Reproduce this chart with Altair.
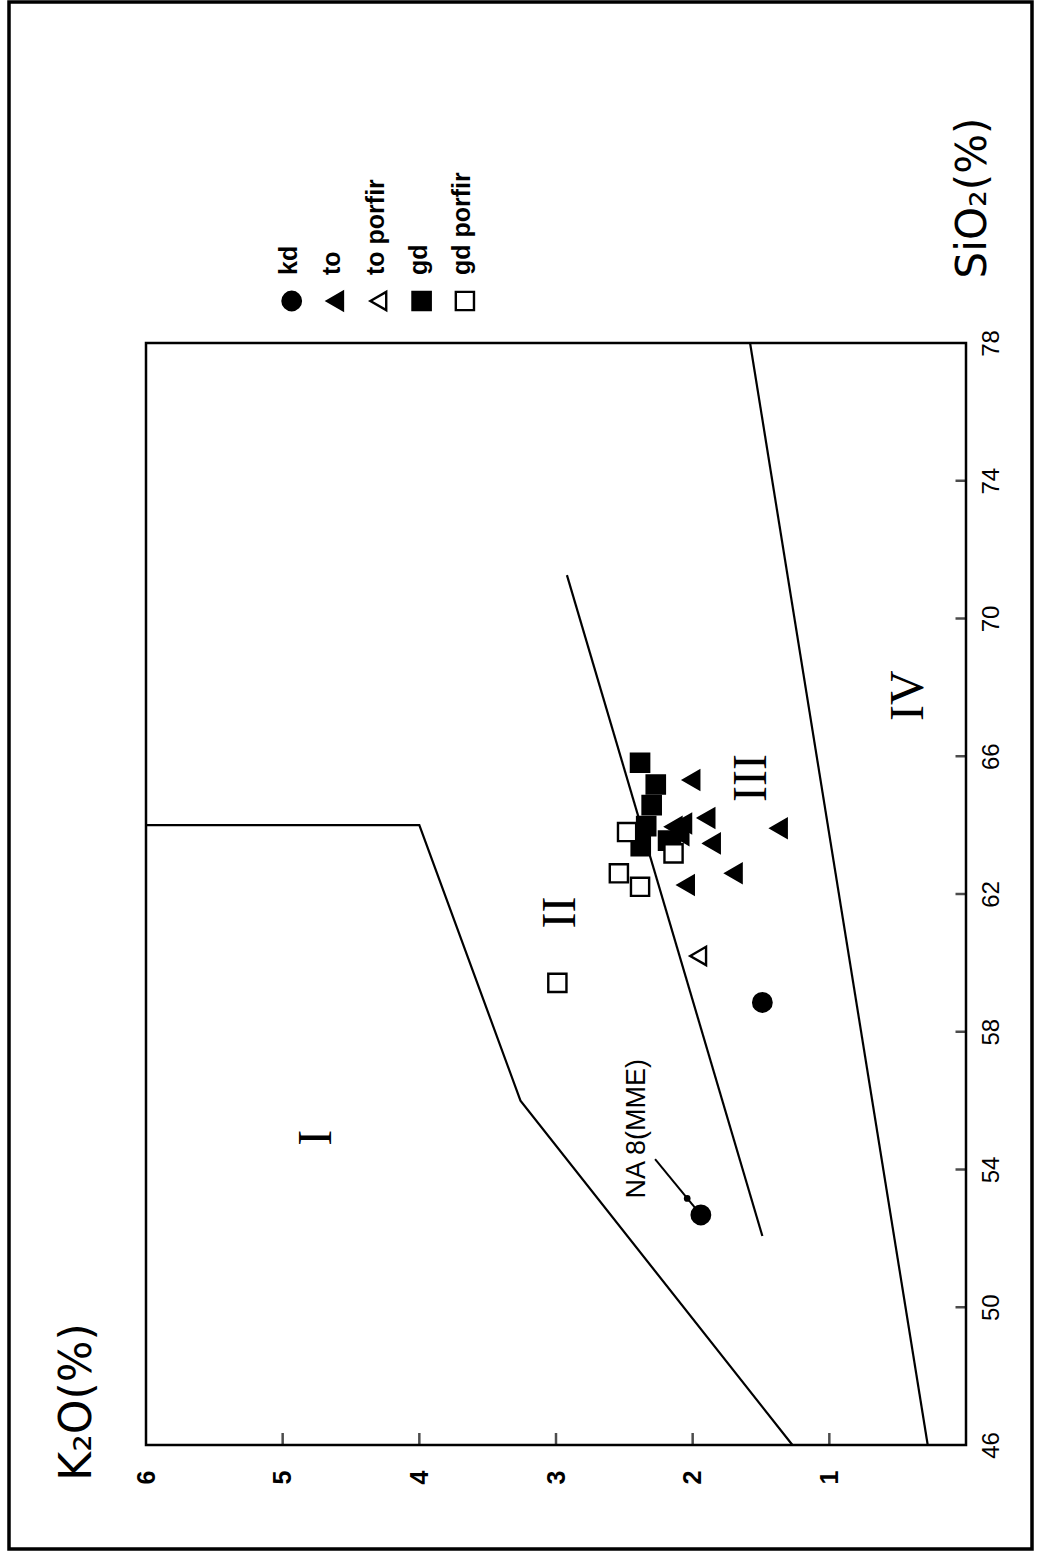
import altair as alt
import pandas as pd

# ---------------- data: SiO2 (%) and K2O (%) per rock group ----------------
kd_sio2 = [58.85, 52.68]
kd_k2o = [1.49, 1.94]

to_sio2 = [65.31, 64.21, 63.91, 63.47, 62.60, 62.26, 63.95, 64.05, 63.57, 63.71]
to_k2o = [2.01, 1.90, 1.37, 1.86, 1.70, 2.05, 2.14, 2.07, 2.15, 2.09]

to_porfir_sio2 = [60.20]
to_porfir_k2o = [1.96]

gd_sio2 = [65.81, 65.18, 64.58, 63.97, 63.39, 63.55]
gd_k2o = [2.385, 2.27, 2.30, 2.34, 2.38, 2.18]

gd_porfir_sio2 = [63.80, 63.18, 62.60, 62.21, 59.42]
gd_porfir_k2o = [2.48, 2.14, 2.54, 2.385, 2.99]

# field boundaries
line1_sio2 = [46, 56, 64, 64]
line1_k2o = [1.27, 3.26, 4.0, 6.0]
line2_sio2 = [52.07, 71.26]
line2_k2o = [1.49, 2.92]
line3_sio2 = [46, 78]
line3_k2o = [0.28, 1.58]

# field names
field_names = ["I", "II", "III", "IV"]
field_sio2 = [54.92, 61.46, 65.37, 67.76]
field_k2o = [4.75, 2.96, 1.565, 0.42]

# labelled sample
sample_label = "NA 8(MME)"
sample_label_sio2 = 55.18
sample_label_k2o = 2.41
leader_sio2 = [54.30, 52.68]
leader_k2o = [2.275, 1.94]
leader_dot_sio2 = [53.16]
leader_dot_k2o = [2.04]

rock_names = ["kd", "to", "to porfir", "gd", "gd porfir"]

k2o_ticks = [1, 2, 3, 4, 5, 6]
sio2_ticks = [46, 50, 54, 58, 62, 66, 70, 74, 78]

# ---------------- tables ----------------
groups = [
    ("kd", kd_sio2, kd_k2o),
    ("to", to_sio2, to_k2o),
    ("to porfir", to_porfir_sio2, to_porfir_k2o),
    ("gd", gd_sio2, gd_k2o),
    ("gd porfir", gd_porfir_sio2, gd_porfir_k2o),
]
points = pd.DataFrame(
    [{"rock": r, "sio2": s, "k2o": k} for r, ss, kk in groups for s, k in zip(ss, kk)]
)

bounds = pd.DataFrame(
    [
        {"line": name, "seq": i, "sio2": s, "k2o": k}
        for name, ss, kk in [("a", line1_sio2, line1_k2o),
                             ("b", line2_sio2, line2_k2o),
                             ("c", line3_sio2, line3_k2o)]
        for i, (s, k) in enumerate(zip(ss, kk))
    ]
)

fields = pd.DataFrame({"name": field_names, "sio2": field_sio2, "k2o": field_k2o})
leader = pd.DataFrame({"sio2": leader_sio2, "k2o": leader_k2o, "seq": [0, 1]})
leader_dot = pd.DataFrame({"sio2": leader_dot_sio2, "k2o": leader_dot_k2o})
label_df = pd.DataFrame({"t": [sample_label], "sio2": [sample_label_sio2], "k2o": [sample_label_k2o]})
k_tick_df = pd.DataFrame({"k2o": k2o_ticks[:-1]})
s_tick_df = pd.DataFrame({"sio2": sio2_ticks[1:-1]})
legend_df = pd.DataFrame({"rock": rock_names, "idx": list(range(len(rock_names)))})
one = pd.DataFrame({"a": [0]})

# ---------------- scales & axes (plot drawn turned a quarter turn) ----------------
W, H = 820, 1102
xs = alt.Scale(domain=[0, 6], reverse=True, nice=False, zero=False)
ys = alt.Scale(domain=[46, 78], nice=False, zero=False)

x_axis = alt.Axis(
    orient="bottom", values=k2o_ticks, ticks=False, domain=False, grid=False,
    labelAngle=270, labelAlign="right", labelBaseline="middle", labelPadding=25,
    labelFont="Liberation Sans", labelFontSize=25, labelFontWeight="bold",
    labelColor="black", labelFlush=False, labelOverlap=False, title=None,
)
y_axis = alt.Axis(
    orient="right", values=sio2_ticks, ticks=False, domain=False, grid=False,
    labelAngle=270, labelAlign="center", labelBaseline="top", labelPadding=13,
    labelFont="Liberation Sans", labelFontSize=24, labelColor="black",
    labelFlush=False, labelOverlap=False, title=None,
)


def X(field):
    return alt.X(f"{field}:Q", scale=xs, axis=x_axis)


def Y(field):
    return alt.Y(f"{field}:Q", scale=ys, axis=y_axis)


shape_scale = alt.Scale(domain=rock_names,
                        range=["circle", "triangle-left", "triangle-left", "square", "square"])
fill_scale = alt.Scale(domain=rock_names,
                       range=["black", "black", "white", "black", "white"])
size_scale = alt.Scale(domain=rock_names, range=[340, 330, 250, 170, 120])

# ---------------- layers ----------------
boundary = alt.Chart(bounds).mark_line(color="black", strokeWidth=2.2).encode(
    x=X("k2o"), y=Y("sio2"), detail="line:N", order="seq:Q"
)

k_ticks = alt.Chart(k_tick_df).transform_calculate(sio2="46").mark_tick(
    orient="vertical", size=12, thickness=2.5, yOffset=-6, color="black"
).encode(x=X("k2o"), y=Y("sio2"))

s_ticks = alt.Chart(s_tick_df).transform_calculate(k2o="0").mark_tick(
    orient="horizontal", size=11, thickness=2.5, xOffset=-5, color="black"
).encode(x=X("k2o"), y=Y("sio2"))

leader_line = alt.Chart(leader).mark_line(color="black", strokeWidth=2).encode(
    x=X("k2o"), y=Y("sio2"), order="seq:Q"
)
leader_pt = alt.Chart(leader_dot).mark_point(
    filled=True, color="black", size=45, shape="circle", opacity=1
).encode(x=X("k2o"), y=Y("sio2"))

pts = alt.Chart(points).mark_point(
    filled=True, stroke="black", strokeWidth=2.4, opacity=1
).encode(
    x=X("k2o"), y=Y("sio2"),
    shape=alt.Shape("rock:N", scale=shape_scale, legend=None),
    fill=alt.Fill("rock:N", scale=fill_scale, legend=None),
    size=alt.Size("rock:N", scale=size_scale, legend=None),
)

field_text = alt.Chart(fields).mark_text(
    font="Liberation Serif", fontSize=48, angle=270, align="center",
    baseline="middle", color="black"
).encode(x=X("k2o"), y=Y("sio2"), text="name:N")

sample_text = alt.Chart(label_df).mark_text(
    font="Liberation Sans", fontSize=27, angle=270, align="center",
    baseline="middle", color="black"
).encode(x=X("k2o"), y=Y("sio2"), text="t:N")

# legend row above the plot
legend_marks = alt.Chart(legend_df).transform_calculate(
    px="145.7 + datum.idx * 43.3", py="-42"
).mark_point(filled=True, stroke="black", strokeWidth=2.4, opacity=1).encode(
    x=alt.X("px:Q", scale=None, axis=None),
    y=alt.Y("py:Q", scale=None, axis=None),
    shape=alt.Shape("rock:N", scale=shape_scale, legend=None),
    fill=alt.Fill("rock:N", scale=fill_scale, legend=None),
    size=alt.Size("rock:N", scale=size_scale, legend=None),
)
legend_text = alt.Chart(legend_df).transform_calculate(
    px="151 + datum.idx * 43.3", py="-68"
).mark_text(
    font="Liberation Sans", fontSize=25, fontWeight="bold", angle=270,
    align="left", baseline="alphabetic", color="black"
).encode(
    x=alt.X("px:Q", scale=None, axis=None),
    y=alt.Y("py:Q", scale=None, axis=None),
    text="rock:N",
)

# axis titles
k_title = alt.Chart(one).mark_text(
    text="K₂O(%)", font="DejaVu Sans", fontSize=44, angle=270,
    align="center", baseline="alphabetic", color="black"
).encode(x=alt.value(-55), y=alt.value(1059))

s_title = alt.Chart(one).mark_text(
    text="SiO₂(%)", font="DejaVu Sans", fontSize=42, angle=270,
    align="center", baseline="alphabetic", color="black"
).encode(x=alt.value(840), y=alt.value(-145))

# page border
border = alt.Chart(one).mark_rect(
    filled=False, stroke="black", strokeWidth=3.5
).encode(
    x=alt.value(-137), x2=alt.value(886), y=alt.value(-341), y2=alt.value(1206)
)

chart = alt.layer(
    boundary, k_ticks, s_ticks, leader_line, leader_pt, pts,
    field_text, sample_text, legend_marks, legend_text, k_title, s_title, border,
).properties(
    width=W, height=H,
    padding={"left": 146, "top": 343, "right": 72, "bottom": 112},
    autosize=alt.AutoSizeParams(type="none"),
    background="white",
).configure_view(stroke="black", strokeWidth=2.5)

chart.save("out.html", embed_options={"renderer": "svg", "actions": False})
